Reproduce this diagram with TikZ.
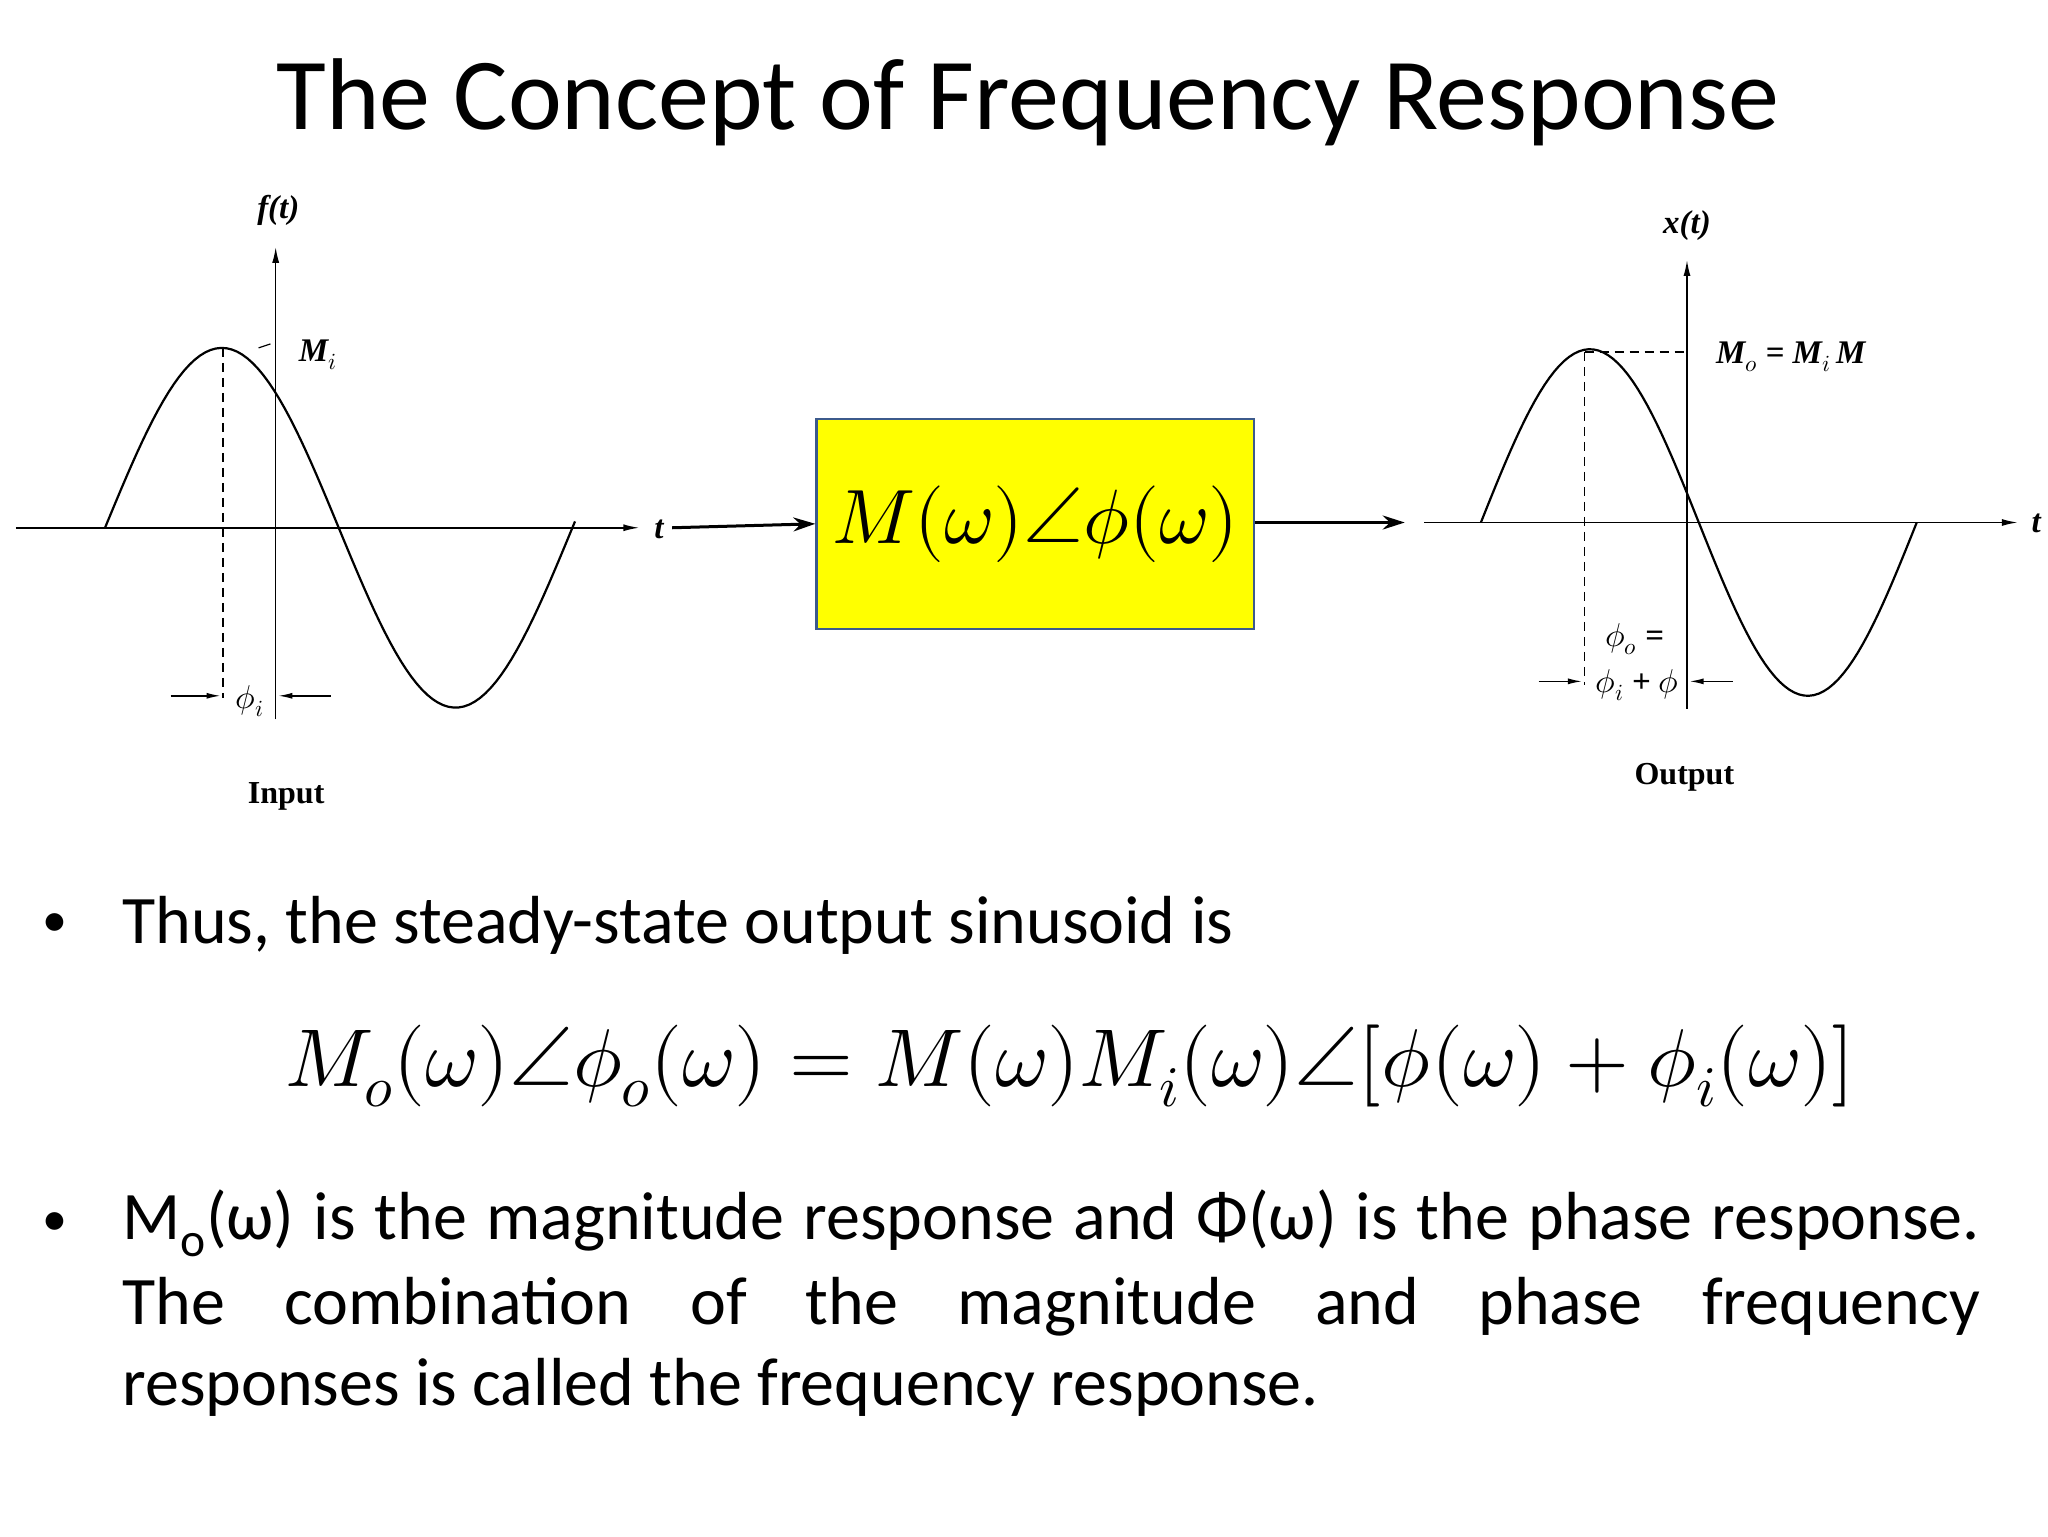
\documentclass[tikz,border=0pt]{standalone}
\usepackage{unicode-math}
\setmainfont{Carlito}
\setmathfont{Latin Modern Math}
\newfontfamily\tms{Liberation Serif}
\usetikzlibrary{arrows.meta}
\definecolor{boxyel}{RGB}{255,255,0}
\definecolor{boxblue}{RGB}{60,90,140}
\tikzset{
  ax/.style={line width=1.6pt,-{Latex[length=16pt,width=7pt]}},
  sig/.style={line width=2.2pt},
  dsh/.style={line width=1.5pt,dash pattern=on 9pt off 6pt},
  lbl/.style={font=\tms\fontsize{33}{35}\selectfont\itshape},
  plotcap/.style={font=\tms\fontsize{32}{34}\selectfont\bfseries},
  body/.style={font=\fontsize{68}{80}\selectfont,anchor=west,inner sep=0},
  conn/.style={line width=3pt,-{Stealth[length=22pt,width=14pt]}},
  smarr/.style={line width=1.4pt,-{Latex[length=14pt,width=6pt]}}
}
\begin{document}
\begin{tikzpicture}[x=1.3128pt,y=-1.3128pt]
\useasboundingbox (0,0) rectangle (1560,1170);
\node[font=\fontsize{102}{104}\selectfont] (title) at (783,78) {The Concept of Frequency Response};
% left plot
\coordinate (lx0) at (12,402); \coordinate (lx1) at (487,402);
\draw[ax] (lx0) -- (lx1);
\node[lbl] (lt) at (502,403) {\bfseries t};
\coordinate (ly0) at (210,548); \coordinate (ly1) at (210,188);
\draw[ax] (ly0) -- (ly1);
\node[lbl] (lf) at (212,160) {\bfseries f(t)};
\draw[sig] plot[domain=80:438,samples=90] (\x,{402-137*sin((\x-80)/178*180)});
\draw[dsh] (170,265) -- (170,532);
\draw[line width=1.2pt] (197,265) -- (206,262);
\node[lbl] (mi) at (242,270) {\bfseries M$_i$};
\coordinate (pa0) at (130,530); \coordinate (pa1) at (168,530);
\coordinate (pb0) at (252,530); \coordinate (pb1) at (212,530);
\draw[smarr] (pa0) -- (pa1); \draw[smarr] (pb0) -- (pb1);
\node[lbl] (phii) at (190,534) {\bfseries $\phi_i$};
\node[plotcap] (inp) at (218,607) {Input};
% box
\node[draw=boxblue,fill=boxyel,line width=2.5pt,minimum width=333*1.3128pt,minimum height=160*1.3128pt,font=\fontsize{77}{79}\selectfont] (box) at (788.5,399) {$M(\omega)\angle\phi(\omega)$};
\draw[conn] (512,402) -- (box.west);
\draw[conn] (box.east |- 0,398) -- (1070,398);
% right plot
\draw[ax] (1085,398) -- (1537,398);
\node[lbl] (rt) at (1551,399) {\bfseries t};
\draw[ax] (1285,540) -- (1285,198);
\node[lbl] (rx) at (1285,172) {\bfseries x(t)};
\draw[sig] plot[domain=1128:1460,samples=90] (\x,{398-132*sin((\x-1128)/166*180)});
\draw[dsh] (1207,268) -- (1285,268);
\draw[dsh] (1207,268) -- (1207,522);
\node[lbl] (mo) at (1364,272) {\bfseries M$_o$ = M$_i$\,M};
\node[lbl] (po) at (1245,487) {\bfseries $\phi_o$ =};
\node[lbl] (pi) at (1247,522) {\bfseries $\phi_i$ + $\phi$};
\draw[smarr] (1172,519) -- (1205,519);
\draw[smarr] (1320,519) -- (1287,519);
\node[plotcap] (outp) at (1283,592) {Output};
% text
\node[body,font=\fontsize{50}{60}\selectfont] (b1) at (32,705) {•};
\node[body] (t1) at (93,705) {Thus, the steady-state output sinusoid is};
\node[font=\fontsize{82}{84}\selectfont] (eq) at (815,812) {$M_o(\omega)\angle\phi_o(\omega)=M(\omega)M_i(\omega)\angle[\phi(\omega)+\phi_i(\omega)]$};
\node[body,font=\fontsize{50}{60}\selectfont] (b2) at (32,932) {•};
\node[body] (t2) at (93,932) {\makebox[1858pt][s]{M\textsubscript{o}(ω) is the magnitude response and Φ(ω) is the phase response.}};
\node[body] (t3) at (93,995) {\makebox[1858pt][s]{The combination of the magnitude and phase frequency}};
\node[body] (t4) at (93,1057) {responses is called the frequency response.};
\end{tikzpicture}
\end{document}
